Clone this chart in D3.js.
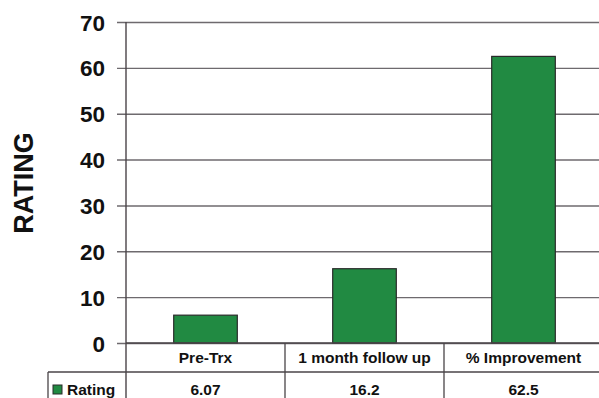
<!DOCTYPE html>
<html>
<head>
<meta charset="utf-8">
<script src="https://cdn.jsdelivr.net/npm/d3@7"></script>
<style>
  html, body { margin: 0; padding: 0; background: #fff; }
  svg { display: block; }
  text { font-family: "Liberation Sans", Arial, sans-serif; font-weight: bold; fill: #111; }
</style>
</head>
<body>
<svg id="chart" width="599" height="398"></svg>
<script>
// Rating before treatment, at follow-up, and the percent improvement
const categories = ["Pre-Trx", "1 month follow up", "%Improvement"];
const ratingValues = [6.07, 16.2, 62.5];
const valueLabels = ["6.07", "16.2", "62.5"];
const seriesName = "Rating";
const yTicks = [0, 10, 20, 30, 40, 50, 60, 70];

const svg = d3.select("#chart");
const W = 599, H = 398;
const plot = { left: 126, right: 603, top: 22, bottom: 343 };
const tableRow1 = 372;   // bottom of category row / top of data row
const legendLeft = 48;

const x = d3.scaleBand().domain(categories).range([plot.left, plot.right]).paddingInner(0).paddingOuter(0);
const y = d3.scaleLinear().domain([0, 70]).range([plot.bottom, plot.top]);

const gridColor = "#6e6a6e";
const lineColor = "#4a4448";

// Horizontal gridlines with ticks protruding left of the axis
const yAxis = d3.axisLeft(y).tickValues(yTicks).tickSize(-(plot.right - plot.left)).tickPadding(12).tickFormat(d3.format("d"));
const gy = svg.append("g").attr("transform", `translate(${plot.left},0)`).call(yAxis);
gy.select(".domain").remove();
gy.selectAll(".tick line").attr("stroke", gridColor).attr("stroke-width", 1.4)
  .attr("x1", -9);
gy.selectAll(".tick text").attr("x", -21).attr("font-size", 22.5).attr("dy", "0.36em")
  .style("font-family", "'Liberation Sans', Arial, sans-serif").style("font-weight", "bold").attr("fill", "#1a1418");

// Bars
const barW = x.bandwidth() * 0.4;
svg.append("g").selectAll("rect").data(ratingValues).join("rect")
  .attr("x", (d, i) => x(categories[i]) + (x.bandwidth() - barW) / 2)
  .attr("y", d => y(d))
  .attr("width", barW)
  .attr("height", d => y(0) - y(d))
  .attr("fill", "#218a42")
  .attr("stroke", "#2a2a2a")
  .attr("stroke-width", 1.2);

// Vertical axis line, continuing down through the data table
svg.append("line").attr("x1", plot.left).attr("x2", plot.left)
  .attr("y1", plot.top).attr("y2", H).attr("stroke", lineColor).attr("stroke-width", 1.4);

// Data table grid
svg.append("line").attr("x1", plot.left).attr("x2", W).attr("y1", plot.bottom).attr("y2", plot.bottom)
  .attr("stroke", lineColor).attr("stroke-width", 1.4);
svg.append("line").attr("x1", legendLeft).attr("x2", W).attr("y1", tableRow1).attr("y2", tableRow1)
  .attr("stroke", lineColor).attr("stroke-width", 1.3);
svg.append("line").attr("x1", legendLeft).attr("x2", legendLeft).attr("y1", tableRow1).attr("y2", H)
  .attr("stroke", lineColor).attr("stroke-width", 1.3);
svg.append("g").selectAll("line").data(categories.slice(1)).join("line")
  .attr("x1", d => x(d)).attr("x2", d => x(d))
  .attr("y1", plot.bottom).attr("y2", H)
  .attr("stroke", lineColor).attr("stroke-width", 1.3);

// Category labels
svg.append("g").selectAll("text").data(categories).join("text")
  .attr("x", d => x(d) + x.bandwidth() / 2)
  .attr("y", 363)
  .attr("text-anchor", "middle")
  .attr("font-size", 15.5)
  .text(d => d === "%Improvement" ? "% Improvement" : d);

// Data values
svg.append("g").selectAll("text").data(valueLabels).join("text")
  .attr("x", (d, i) => x(categories[i]) + x.bandwidth() / 2)
  .attr("y", 395)
  .attr("text-anchor", "middle")
  .attr("font-size", 15.5)
  .text(d => d);

// Legend key in the table
svg.append("rect").attr("x", 53).attr("y", 385).attr("width", 9).attr("height", 9)
  .attr("fill", "#218a42").attr("stroke", "#2a2a2a").attr("stroke-width", 1);
svg.append("text").attr("x", 67).attr("y", 395).attr("font-size", 15.5).text(seriesName);

// Y axis title
svg.append("text")
  .attr("transform", `translate(33,183) rotate(-90)`)
  .attr("text-anchor", "middle")
  .attr("font-size", 27)
  .text("RATING");
</script>
</body>
</html>
